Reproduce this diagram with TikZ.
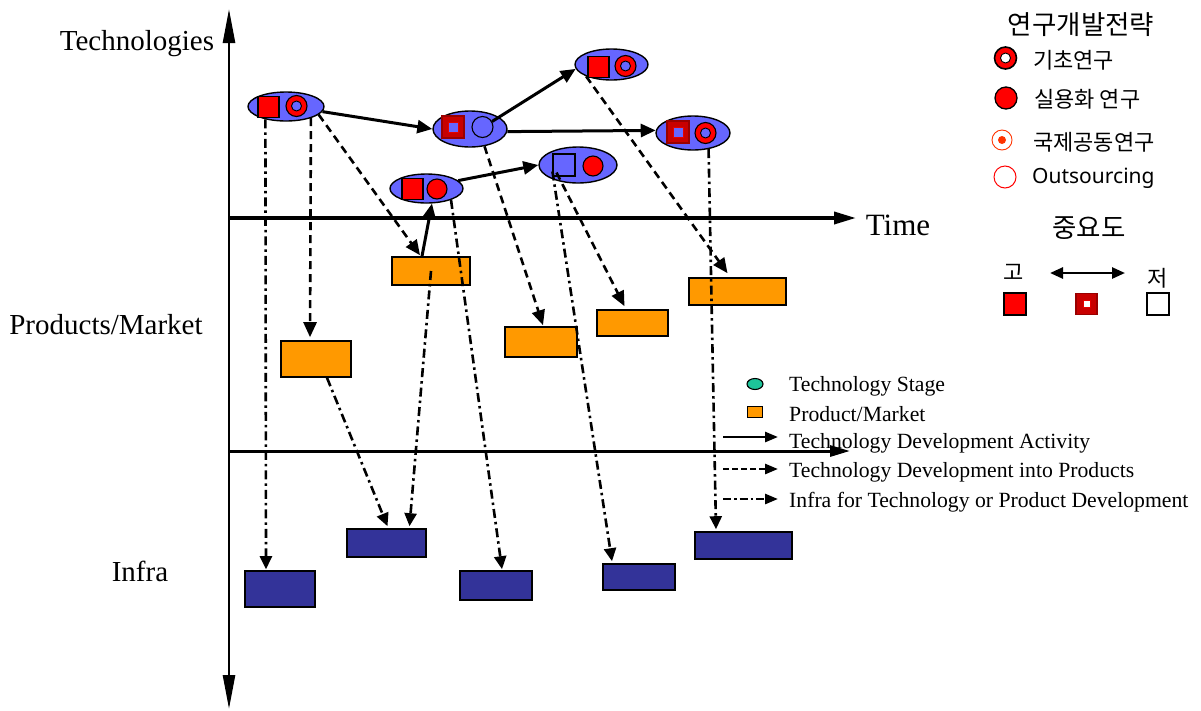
\documentclass[tikz,border=0pt]{standalone}
\usepackage{fontspec}
\setmainfont{Liberation Serif}
\newfontfamily\krfont{Noto Sans CJK KR}
\newfontfamily\latsans{Noto Sans}
\usetikzlibrary{arrows.meta,shapes.geometric}

\definecolor{stageblue}{HTML}{6666FF}
\definecolor{prodorange}{HTML}{FF9900}
\definecolor{infranavy}{HTML}{333399}
\definecolor{deepred}{HTML}{C80000}
\definecolor{darkframe}{HTML}{990000}
\definecolor{stagegreen}{HTML}{1DC49A}
\definecolor{coopred}{HTML}{FF3300}

\begin{document}
\begin{tikzpicture}[x=1pt,y=-1pt,
  stage/.style={ellipse, draw, fill=stageblue, line width=1.4pt, inner sep=0pt},
  prod/.style={rectangle, draw, fill=prodorange, line width=1.6pt, inner sep=0pt},
  infra/.style={rectangle, draw, fill=infranavy, line width=1.6pt, inner sep=0pt},
  hisq/.style={rectangle, draw, fill=red, line width=1.1pt, minimum size=21pt, inner sep=0pt},
  midsq/.style={rectangle, draw=darkframe, fill=deepred, line width=1.1pt, minimum size=22pt, inner sep=0pt},
  midcore/.style={rectangle, draw=red!90!black, fill=stageblue, line width=0.9pt, minimum size=10pt, inner sep=0pt},
  losq/.style={rectangle, draw, fill=stageblue, line width=1.1pt, minimum size=22pt, inner sep=0pt},
  ring/.style={circle, draw, fill=red, line width=1.1pt, minimum size=21pt, inner sep=0pt},
  ringcore/.style={circle, draw, fill=stageblue, line width=0.9pt, minimum size=10pt, inner sep=0pt},
  dot/.style={circle, draw, fill=red, line width=1.1pt, minimum size=20pt, inner sep=0pt},
  hollow/.style={circle, draw, fill=stageblue, line width=1.1pt, minimum size=21pt, inner sep=0pt},
  act/.style={line width=3pt, -{Triangle[length=15pt,width=13pt]}},
  intoprod/.style={line width=2.6pt, dash pattern=on 8pt off 5pt, -{Triangle[length=15pt,width=13pt]}},
  infralink/.style={line width=2.6pt, dash pattern=on 9pt off 4pt on 2.5pt off 4pt, -{Triangle[length=13pt,width=12pt]}},
  lgact/.style={line width=2.6pt, -{Triangle[length=13pt,width=10pt]}},
  lgprod/.style={line width=2.6pt, dash pattern=on 6pt off 3pt, -{Triangle[length=13pt,width=10pt]}},
  lginfra/.style={line width=2.6pt, dash pattern=on 8pt off 3pt on 2.5pt off 3pt, -{Triangle[length=13pt,width=10pt]}},
  axislbl/.style={font=\fontsize{29}{34}\selectfont, inner sep=0pt},
  lgtext/.style={font=\fontsize{21.7}{26}\selectfont, anchor=west, inner sep=0pt},
  krtext/.style={font=\krfont\fontsize{22}{26}\selectfont, inner sep=0pt},
]
\useasboundingbox (0,0) rectangle (1201,710);

% axes
\coordinate (vtop) at (229,9);
\coordinate (vbot) at (229,709);
\draw[line width=2.6pt, {Triangle[length=34pt,width=12pt]}-{Triangle[length=34pt,width=12pt]}] (vbot) -- (vtop);
\coordinate (t0) at (229,218);
\coordinate (t1) at (856,218);
\draw[line width=3.6pt, -{Triangle[length=22pt,width=12pt]}] (t0) -- (t1);
\coordinate (s0) at (229,451);
\coordinate (s1) at (850,451);
\draw[line width=3pt, -{Triangle[length=20pt,width=11pt]}] (s0) -- (s1);

% axis labels
\node[axislbl] (lblTech) at (137,44) {Technologies};
\node[axislbl, font=\fontsize{31}{36}\selectfont] (lblTime) at (898,225) {Time};
\node[axislbl] (lblProd) at (106,325) {Products/Market};
\node[axislbl] (lblInfra) at (140,571) {Infra};

% technology stages
\node[stage, minimum width=76pt, minimum height=29pt] (E1) at (286,106.5) {};
\node[hisq] (E1s) at (268.5,107) {};
\node[ring] (E1c) at (296.5,106) {};
\node[ringcore] (E1cc) at (E1c) {};

\node[stage, minimum width=74pt, minimum height=36pt] (E2) at (470,129) {};
\node[midsq] (E2s) at (453,127) {};
\node[midcore] (E2sc) at (E2s) {};
\node[hollow] (E2c) at (482.5,127) {};

\node[stage, minimum width=73pt, minimum height=31pt] (E3) at (611.5,64.5) {};
\node[hisq] (E3s) at (598.5,67) {};
\node[ring] (E3c) at (625.5,66) {};
\node[ringcore] (E3cc) at (E3c) {};

\node[stage, minimum width=73pt, minimum height=29pt] (E4) at (426.5,188.5) {};
\node[hisq] (E4s) at (412.5,189) {};
\node[dot] (E4c) at (437,189) {};

\node[stage, minimum width=78pt, minimum height=36pt] (E5) at (578,165) {};
\node[losq] (E5s) at (564,165) {};
\node[dot] (E5c) at (593,166) {};

\node[stage, minimum width=74pt, minimum height=34pt] (E6) at (693,133) {};
\node[midsq] (E6s) at (678,132) {};
\node[midcore] (E6sc) at (E6s) {};
\node[ring] (E6c) at (705.5,133) {};
\node[ringcore] (E6cc) at (E6c) {};

% products / market
\node[prod, minimum width=78pt, minimum height=28pt] (P1) at (431,271) {};
\node[prod, minimum width=70pt, minimum height=36pt] (P2) at (316,359) {};
\node[prod, minimum width=72pt, minimum height=30pt] (P3) at (541,342) {};
\node[prod, minimum width=71pt, minimum height=26pt] (P4) at (632.5,323) {};
\node[prod, minimum width=97pt, minimum height=27pt] (P5) at (737.5,291.5) {};

% infrastructure
\node[infra, minimum width=70pt, minimum height=36pt] (I1) at (280,589) {};
\node[infra, minimum width=79pt, minimum height=28pt] (I2) at (386.5,543) {};
\node[infra, minimum width=72pt, minimum height=29pt] (I3) at (496,585.5) {};
\node[infra, minimum width=72pt, minimum height=26pt] (I4) at (639,577) {};
\node[infra, minimum width=97pt, minimum height=27pt] (I5) at (743.5,545.5) {};

% technology development activity
\draw[act] (E1.-8) -- (E2.west);
\draw[act] (E2c.30) -- (E3.187);
\draw[act] (E2.-4) -- (E6.176);
\draw[act] (E4.14) -- (E5.west);
\draw[act] ([xshift=-9pt]P1.north) -- (E4.-70);

% technology into products
\draw[intoprod] (E1.-25) -- ([xshift=-6pt,yshift=3pt]P2.north);
\draw[intoprod] (E1.-14) -- ([xshift=-11pt,yshift=1pt]P1.north);
\draw[intoprod] (E2.-50) -- ([xshift=2pt,yshift=1pt]P3.north);
\draw[intoprod] ([xshift=4pt,yshift=4pt]E5s.south west) -- ([xshift=-8pt,yshift=3pt]P4.north);
\draw[intoprod] (E3.-155) -- ([xshift=-10pt,yshift=4pt]P5.north);

% infrastructure links
\draw[infralink] (E1.-148) -- ([xshift=-14pt,yshift=1pt]I1.north);
\draw[infralink] ([xshift=11pt]P2.south) -- ([xshift=1pt,yshift=2pt]I2.north);
\draw[infralink] (P1.center) -- ([xshift=23pt,yshift=2pt]I2.north);
\draw[infralink] (E4.-25) -- ([xshift=6pt,yshift=1pt]I3.north);
\draw[infralink] ([yshift=5pt]E5s.south west) -- ([xshift=-27pt,yshift=2pt]I4.north);
\draw[infralink] (E6.-46) -- ([xshift=-27.5pt,yshift=2pt]I5.north);

% key of symbols
\node[ellipse, draw, fill=stagegreen, minimum width=16pt, minimum height=11pt, inner sep=0pt, line width=1.1pt] (lgStage) at (755,384) {};
\node[rectangle, draw, fill=prodorange, minimum width=15pt, minimum height=11pt, inner sep=0pt, line width=1.1pt] (lgProd) at (755,412) {};
\coordinate (la0) at (723,437);
\coordinate (la1) at (778,437);
\coordinate (lb0) at (723,469);
\coordinate (lb1) at (778,469);
\coordinate (lc0) at (723,499);
\coordinate (lc1) at (778,499);
\draw[lgact] (la0) -- (la1);
\draw[lgprod] (lb0) -- (lb1);
\draw[lginfra] (lc0) -- (lc1);
\node[lgtext] (tStage) at (789,386) {Technology Stage};
\node[lgtext] (tProd) at (789,414) {Product/Market};
\node[lgtext] (tAct) at (789,443) {Technology Development Activity};
\node[lgtext] (tInto) at (789,472) {Technology Development into Products};
\node[lgtext] (tInfra) at (789,502) {Infra for Technology or Product Development};

% research strategy key
\node[krtext, font=\krfont\fontsize{26.5}{31}\selectfont] (krTitle) at (1081,25) {연구개발전략};
\node[circle, draw, fill=red, line width=1.6pt, minimum size=22pt, inner sep=0pt] (lgBasic) at (1005.5,58) {};
\node[circle, draw, fill=white, line width=0.9pt, minimum size=10pt, inner sep=0pt] (lgBasicIn) at (lgBasic) {};
\node[krtext, anchor=west] (tBasic) at (1033,60) {기초연구};
\node[circle, draw, fill=red, line width=1.3pt, minimum size=22pt, inner sep=0pt] (lgApplied) at (1006,98) {};
\node[krtext, anchor=west] (tApplied) at (1034,99) {실용화 연구};
\node[circle, draw=coopred, line width=0.9pt, minimum size=20pt, inner sep=0pt] (lgCoop) at (1002,140) {};
\node[circle, fill=coopred, minimum size=8pt, inner sep=0pt] (lgCoopIn) at (lgCoop) {};
\node[krtext, anchor=west] (tCoop) at (1033,142) {국제공동연구};
\node[circle, draw=red, line width=1pt, minimum size=22pt, inner sep=0pt] (lgOut) at (1005,177) {};
\node[anchor=west, inner sep=0pt, font=\latsans\fontsize{21}{25}\selectfont] (tOut) at (1032,178) {Outsourcing};

% importance key
\node[krtext, font=\krfont\fontsize{26.5}{31}\selectfont] (krImp) at (1089,228) {중요도};
\node[krtext] (tHigh) at (1014,272) {고};
\node[krtext] (tLow) at (1158,278) {저};
\coordinate (dA) at (1050,273);
\coordinate (dB) at (1125,273);
\draw[line width=2.6pt, {Triangle[length=13pt,width=11pt]}-{Triangle[length=13pt,width=11pt]}] (dA) -- (dB);
\node[hisq, minimum size=22pt] (kHigh) at (1015,304) {};
\node[midsq, minimum size=21pt] (kMid) at (1086.5,304) {};
\node[rectangle, draw=red!90!black, fill=white, minimum size=7pt, inner sep=0pt, line width=0.6pt] (kMidIn) at (kMid) {};
\node[rectangle, draw, fill=white, line width=1.1pt, minimum size=22pt, inner sep=0pt] (kLow) at (1158,304) {};
\end{tikzpicture}
\end{document}
